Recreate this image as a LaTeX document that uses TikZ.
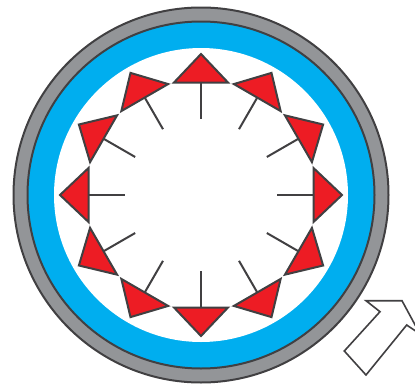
\documentclass[tikz,border=0pt]{standalone}
\usepackage{tikz}
\definecolor{ringgrey}{RGB}{147,149,152}
\definecolor{ringblue}{RGB}{0,174,239}
\definecolor{padred}{RGB}{237,28,36}
\definecolor{edgegrey}{RGB}{65,64,66}
\tikzset{%
   % rings of the tube
   ring/.style={
      draw=edgegrey,
      line width=2pt
   },
   pad/.style={
      draw=edgegrey,
      fill=padred,
      line width=2pt,
      line join=miter
   },
   stem/.style={
      draw=edgegrey,
      line width=2pt
   },
   turn/.style={
      draw=edgegrey,
      fill=white,
      line width=1.6pt
   },
}
\begin{document}
\begin{tikzpicture}[x=1pt, y=-1pt]
    \fill[white] (0,0) rectangle (415,383);
    \useasboundingbox (0,0) rectangle (415,383);
    \clip (0,0) rectangle (415,383);
    \coordinate (c) at (201,195);
    % tube wall, coolant and bore
    \draw[ring, fill=ringgrey] (c) circle [radius=187.5];
    \draw[ring, fill=ringblue] (c) circle [radius=173.5];
    \fill[white] (c) circle [radius=147];
    % one pad and its stem every 30 degrees
    \foreach \ang in {0,30,...,330}{
      \begin{scope}[shift={(c)}, rotate=\ang]
        \coordinate (tip) at (141,0);
        \coordinate (bl) at (112.5,-27);
        \coordinate (br) at (112.5,27);
        \coordinate (base) at (112.5,0);
        \coordinate (end) at (76,0);
        \draw[stem] (base) -- (end);
        \draw[pad] (tip) -- (bl) -- (br) -- cycle;
      \end{scope}
    }
    % direction of turn
    \coordinate (a1) at (344.3,351);
    \coordinate (a2) at (366,375);
    \coordinate (a3) at (406.7,325);
    \coordinate (a4) at (420,334);
    \coordinate (a5) at (402,300.7);
    \coordinate (a6) at (366,300.7);
    \coordinate (a7) at (380,311.7);
    \draw[turn] (a1) -- (a2) -- (a3) -- (a4) -- (a5) -- (a6) -- (a7) -- cycle;
\end{tikzpicture}
\end{document}
